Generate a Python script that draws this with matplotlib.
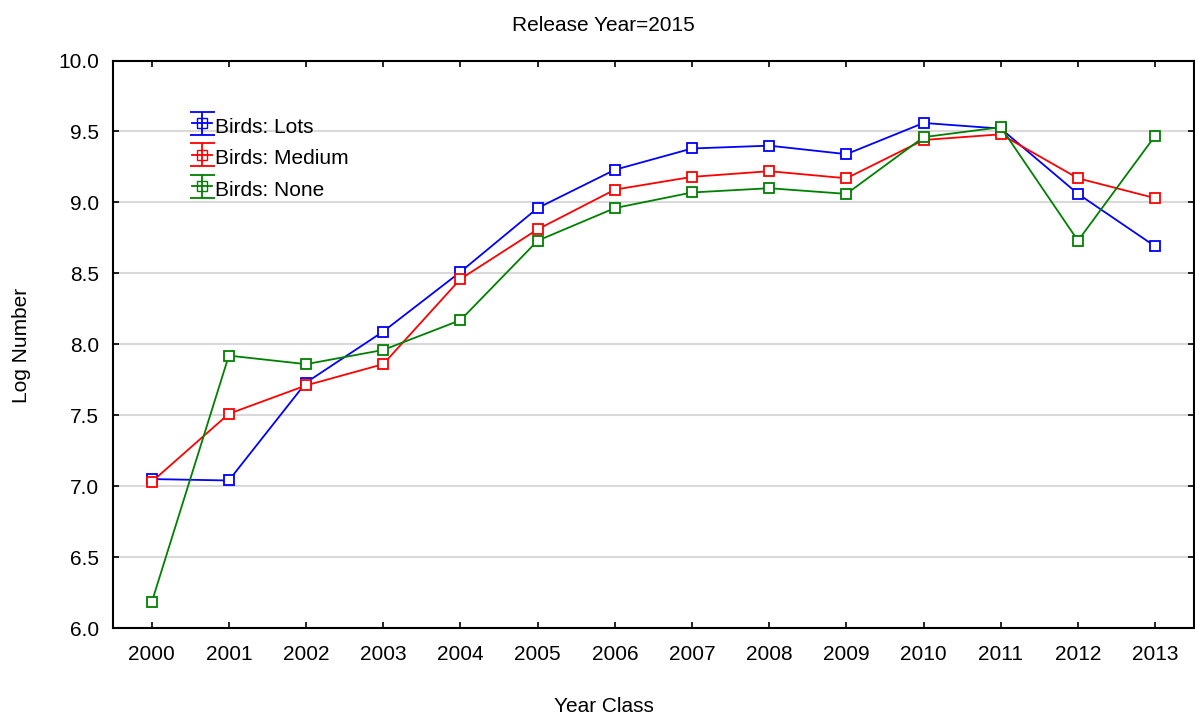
import numpy as np
import matplotlib.pyplot as plt
from matplotlib.legend_handler import HandlerErrorbar
from matplotlib.container import ErrorbarContainer

plt.rcParams['font.family'] = ['Liberation Sans', 'DejaVu Sans']

# data
years = np.arange(2000, 2014)
lots = [7.05, 7.04, 7.73, 8.09, 8.51, 8.96, 9.23, 9.38, 9.40, 9.34, 9.56, 9.52, 9.06, 8.69]
medium = [7.03, 7.51, 7.71, 7.86, 8.46, 8.81, 9.09, 9.18, 9.22, 9.17, 9.44, 9.48, 9.17, 9.03]
none = [6.18, 7.92, 7.86, 7.96, 8.17, 8.73, 8.96, 9.07, 9.10, 9.06, 9.46, 9.53, 8.73, 9.47]

series = [("Birds: Lots", lots, "#0000ff"),
          ("Birds: Medium", medium, "#ff0000"),
          ("Birds: None", none, "#008000")]

fs = 15

fig = plt.figure(figsize=(11.95, 7.18), dpi=100)
ax = fig.add_axes([0.0946, 0.1253, 0.9044, 0.7904])

handles = []
for name, vals, c in series:
    ax.plot(years, vals, color=c, lw=1.3, marker="s", ms=7.5, mfc="white",
            mec=c, mew=1.3)
    # legend proxy drawn like an error-bar symbol
    h = ax.errorbar([np.nan], [np.nan], yerr=[1], fmt="s-", color=c, mfc="none",
                    mec=c, ms=7.5, lw=1.3, capsize=9, capthick=1.3, label=name)
    handles.append(h)

ax.set_xlim(1999.5, 2013.5)
ax.set_ylim(6.0, 10.0)
ax.set_xticks(years)
ax.set_yticks(np.arange(6.0, 10.01, 0.5))
ax.set_yticklabels([f"{v:.1f}" for v in np.arange(6.0, 10.01, 0.5)])
ax.yaxis.grid(True, color="#d9d9d9", lw=1.5)
ax.set_axisbelow(True)
ax.tick_params(direction="in", length=4, width=1.2, labelsize=fs,
               top=True, right=True)
ax.tick_params(axis="x", pad=12)
ax.tick_params(axis="y", pad=10)
for s in ax.spines.values():
    s.set_linewidth(1.5)

fig.text(0.505, 0.0155, "Year Class", ha="center", va="center", fontsize=fs)
fig.text(0.0184, 0.5195, "Log Number", ha="center", va="center",
         rotation=90, fontsize=fs)
fig.text(0.505, 0.965, "Release Year=2015", ha="center", va="center", fontsize=fs)

ax.legend(handles=handles, loc="upper left", bbox_to_anchor=(0.065, 0.92),
          frameon=False, fontsize=fs, handlelength=1.0, handletextpad=0.1,
          labelspacing=0.42, borderaxespad=0, handleheight=1.3,
          handler_map={ErrorbarContainer: HandlerErrorbar(xerr_size=0.55)})

fig.savefig("out.png", dpi=100)
